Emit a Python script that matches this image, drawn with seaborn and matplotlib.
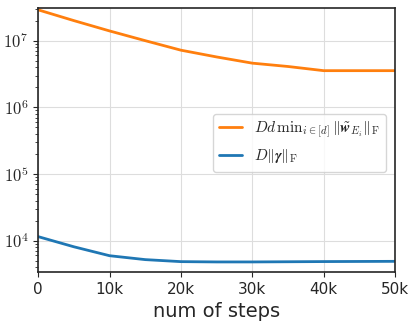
import numpy as np
import pandas as pd
import matplotlib
matplotlib.use('Agg')
import matplotlib.pyplot as plt
from matplotlib.ticker import LogLocator, NullFormatter
import seaborn as sns

# values
steps = [0, 5000, 10000, 15000, 20000, 25000, 30000, 35000, 40000, 45000, 50000]
w_norm = [2.9e7, 2.0e7, 1.4e7, 1.0e7, 7.2e6, 5.7e6, 4.6e6, 4.1e6, 3.55e6, 3.55e6, 3.55e6]
gamma_norm = [1.15e4, 8.1e3, 5.95e3, 5.2e3, 4.85e3, 4.8e3, 4.8e3, 4.83e3, 4.86e3, 4.88e3, 4.9e3]
xticks = [0, 10000, 20000, 30000, 40000, 50000]
xticklabels = ['0', '10k', '20k', '30k', '40k', '50k']

label_w = r'$Dd\,\mathrm{min}_{i\in[d]}\,\|\tilde{\boldsymbol{w}}_{E_i}\|_{\mathrm{F}}$'
label_g = r'$D\|\boldsymbol{\gamma}\|_{\mathrm{F}}$'

sns.set_style('ticks')
plt.rcParams['mathtext.fontset'] = 'cm'
plt.rcParams['font.family'] = ['DejaVu Sans']

df = pd.DataFrame({
    'step': steps * 2,
    'value': w_norm + gamma_norm,
    'series': [label_w] * len(steps) + [label_g] * len(steps),
})

fig, ax = plt.subplots(figsize=(4.15, 3.3), dpi=100)
sns.lineplot(data=df, x='step', y='value', hue='series',
             palette=['#ff7f0e', '#1f77b4'], linewidth=2, ax=ax)
ax.set_yscale('log')
ax.set_xlim(0, 50000)
ax.set_ylim(3.4e3, 3.1e7)
ax.set_xticks(xticks)
ax.set_xticklabels(xticklabels, fontsize=11)
ax.tick_params(axis='y', labelsize=12)
ax.set_yticks([1e4, 1e5, 1e6, 1e7])
ax.set_yticklabels([r'$10^4$', r'$10^5$', r'$10^6$', r'$10^7$'])
ax.yaxis.set_minor_locator(LogLocator(base=10, subs=np.arange(2, 10), numticks=20))
ax.yaxis.set_minor_formatter(NullFormatter())
ax.tick_params(axis='both', which='major', length=3.5, width=0.8)
ax.tick_params(axis='y', which='minor', left=True, length=2.5, width=0.6)
ax.grid(True, which='major', color='#dddddd', linewidth=0.8)
ax.set_xlabel('num of steps', fontsize=14)
ax.set_ylabel('')
leg = ax.legend(loc='center right', bbox_to_anchor=(0.995, 0.49), fontsize=11,
                frameon=True, framealpha=0.8, handlelength=1.5)
for s in ax.spines.values():
    s.set_linewidth(1.2)

fig.subplots_adjust(left=0.092, right=0.952, top=0.976, bottom=0.176)
fig.savefig('out.png', dpi=100)
